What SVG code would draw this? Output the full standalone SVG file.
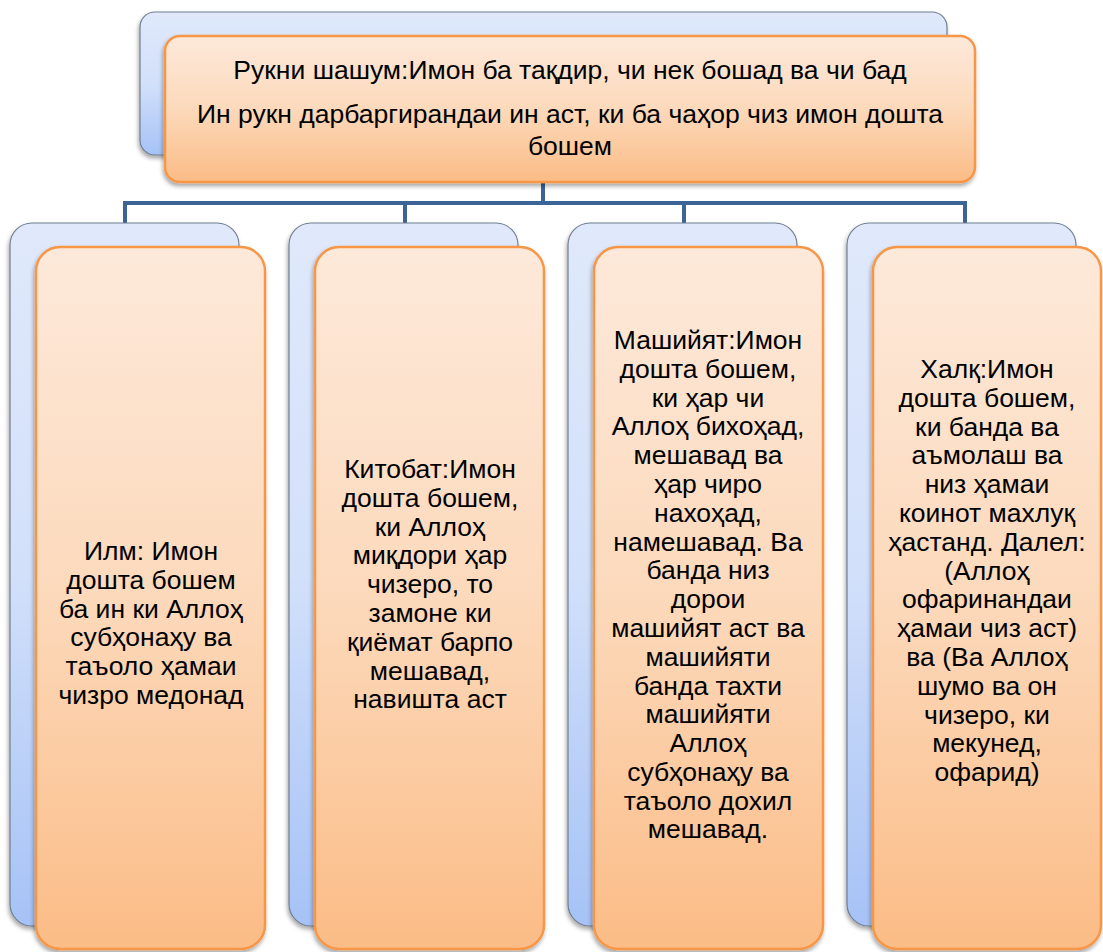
<svg xmlns="http://www.w3.org/2000/svg" width="1103" height="952" viewBox="0 0 1103 952">
<defs>
<linearGradient id="gBlue" x1="0" y1="0" x2="0" y2="1">
<stop offset="0" stop-color="#e0e9fb"/>
<stop offset="0.5" stop-color="#d2e0fa"/>
<stop offset="1" stop-color="#a6c2f6"/>
</linearGradient>
<linearGradient id="gOrange" x1="0" y1="0" x2="0" y2="1">
<stop offset="0" stop-color="#fde9da"/>
<stop offset="0.5" stop-color="#fcd9bb"/>
<stop offset="1" stop-color="#fbbc86"/>
</linearGradient>
<filter id="sh" x="-10%" y="-10%" width="120%" height="120%">
<feDropShadow dx="-1" dy="3" stdDeviation="2" flood-color="#000" flood-opacity="0.35"/>
</filter>
</defs>
<style>
.back{fill:url(#gBlue);stroke:#6f7f92;stroke-width:1.2;filter:url(#sh)}
.front{fill:url(#gOrange);stroke:#f79646;stroke-width:2.5;filter:url(#sh)}
.t{font-family:"Liberation Sans",Arial,sans-serif;font-size:26.5px;fill:#000;text-anchor:middle}
.tt{font-family:"Liberation Sans",Arial,sans-serif;font-size:26.5px;fill:#000;text-anchor:middle}
.conn{fill:none;stroke:#3c6496;stroke-width:4}
</style>
<g id="connectors">
<path class="conn" d="M543,182 V203 M123,203 H967 M125,203 V224 M405,203 V224 M684,203 V224 M965,203 V224"/>
</g>
<g id="node-top">
<rect class="back" x="140" y="12" width="807" height="143" rx="15"/>
<rect class="front" x="165" y="36" width="810" height="146" rx="15"/>
<text class="tt" x="570" y="79">Рукни шашум:Имон ба тақдир, чи нек бошад ва чи бад</text>
<text class="tt" x="570" y="123">Ин рукн дарбаргирандаи ин аст, ки ба чаҳор чиз имон дошта</text>
<text class="tt" x="570" y="155">бошем</text>
</g>
<g id="node-ilm">
<rect class="back" x="10" y="223" width="229" height="703" rx="22"/>
<rect class="front" x="36" y="247" width="229" height="702" rx="24"/>
<text class="t" x="151" y="560">Илм: Имон</text>
<text class="t" x="151" y="589">дошта бошем</text>
<text class="t" x="151" y="618">ба ин ки Аллоҳ</text>
<text class="t" x="151" y="646">субҳонаҳу ва</text>
<text class="t" x="151" y="675">таъоло ҳамаи</text>
<text class="t" x="151" y="704">чизро медонад</text>
</g>
<g id="node-kitobat">
<rect class="back" x="289" y="223" width="229" height="703" rx="22"/>
<rect class="front" x="315" y="247" width="229" height="702" rx="24"/>
<text class="t" x="430" y="478">Китобат:Имон</text>
<text class="t" x="430" y="507">дошта бошем,</text>
<text class="t" x="430" y="536">ки Аллоҳ</text>
<text class="t" x="430" y="564">миқдори ҳар</text>
<text class="t" x="430" y="593">чизеро, то</text>
<text class="t" x="430" y="622">замоне ки</text>
<text class="t" x="430" y="651">қиёмат барпо</text>
<text class="t" x="430" y="680">мешавад,</text>
<text class="t" x="430" y="708">навишта аст</text>
</g>
<g id="node-mashiyat">
<rect class="back" x="568" y="223" width="229" height="703" rx="22"/>
<rect class="front" x="594" y="247" width="229" height="702" rx="24"/>
<text class="t" x="708" y="349">Машийят:Имон</text>
<text class="t" x="708" y="378">дошта бошем,</text>
<text class="t" x="708" y="407">ки ҳар чи</text>
<text class="t" x="708" y="435">Аллоҳ бихоҳад,</text>
<text class="t" x="708" y="464">мешавад ва</text>
<text class="t" x="708" y="493">ҳар чиро</text>
<text class="t" x="708" y="522">нахоҳад,</text>
<text class="t" x="708" y="551">намешавад. Ва</text>
<text class="t" x="708" y="579">банда низ</text>
<text class="t" x="708" y="608">дорои</text>
<text class="t" x="708" y="637">машийят аст ва</text>
<text class="t" x="708" y="666">машийяти</text>
<text class="t" x="708" y="695">банда тахти</text>
<text class="t" x="708" y="723">машийяти</text>
<text class="t" x="708" y="752">Аллоҳ</text>
<text class="t" x="708" y="781">субҳонаҳу ва</text>
<text class="t" x="708" y="810">таъоло дохил</text>
<text class="t" x="708" y="838">мешавад.</text>
</g>
<g id="node-khalq">
<rect class="back" x="847" y="223" width="229" height="703" rx="22"/>
<rect class="front" x="873" y="247" width="228" height="702" rx="24"/>
<text class="t" x="987" y="378">Халқ:Имон</text>
<text class="t" x="987" y="407">дошта бошем,</text>
<text class="t" x="987" y="436">ки банда ва</text>
<text class="t" x="987" y="464">аъмолаш ва</text>
<text class="t" x="987" y="493">низ ҳамаи</text>
<text class="t" x="987" y="522">коинот махлуқ</text>
<text class="t" x="987" y="551">ҳастанд. Далел:</text>
<text class="t" x="987" y="580">(Аллоҳ</text>
<text class="t" x="987" y="608">офаринандаи</text>
<text class="t" x="987" y="637">ҳамаи чиз аст)</text>
<text class="t" x="987" y="666">ва (Ва Аллоҳ</text>
<text class="t" x="987" y="695">шумо ва он</text>
<text class="t" x="987" y="724">чизеро, ки</text>
<text class="t" x="987" y="752">мекунед,</text>
<text class="t" x="987" y="781">офарид)</text>
</g>
</svg>
